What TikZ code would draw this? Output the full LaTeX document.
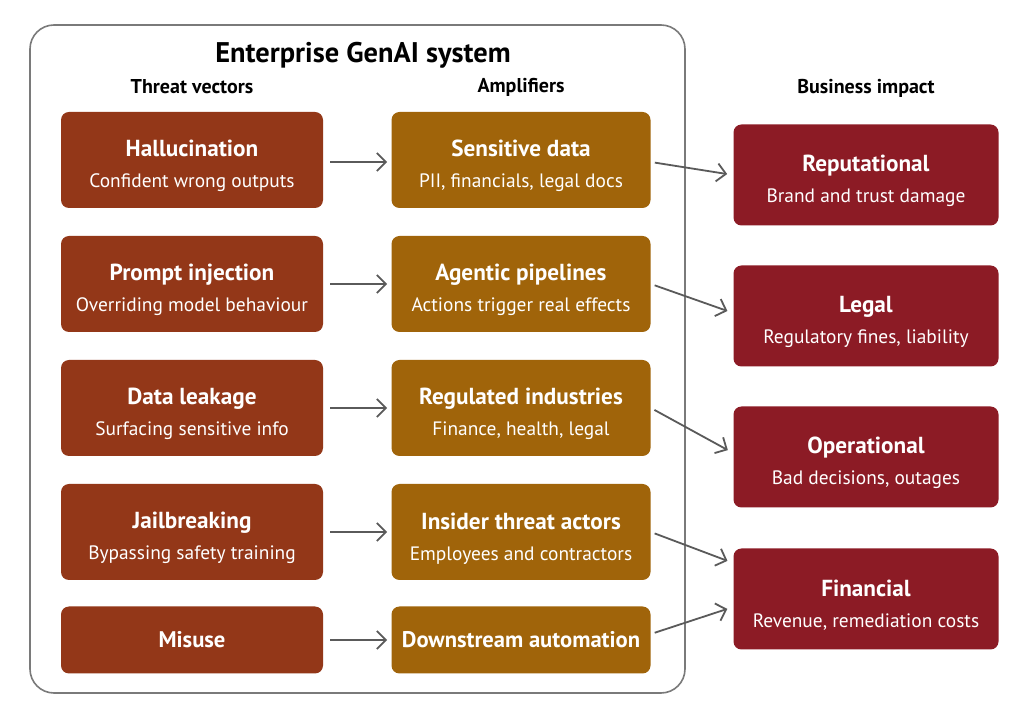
\documentclass[tikz,border=0pt]{standalone}
\usepackage{fontspec}
\setmainfont{PT Sans}
\usetikzlibrary{arrows.meta}
\definecolor{threatc}{HTML}{933718}
\definecolor{ampc}{HTML}{A0640A}
\definecolor{impactc}{HTML}{8C1B25}
\definecolor{framec}{HTML}{7A7A7A}
\definecolor{arrowc}{HTML}{5A5A5A}
\newcommand{\boxtext}[2]{\rule{0pt}{14.5pt}{\fontsize{11.6}{13}\selectfont\bfseries #1}\\[3.5pt]{\fontsize{9.7}{11}\selectfont #2}}

\begin{document}
\begin{tikzpicture}[x=0.5pt,y=-0.5pt,
  box/.style={rounded corners=4pt, text=white, align=center, inner sep=0pt},
  threat/.style={box, fill=threatc, minimum width=131pt, minimum height=48pt},
  amp/.style={box, fill=ampc, minimum width=129.5pt, minimum height=48pt},
  impact/.style={box, fill=impactc, minimum width=132.5pt, minimum height=50.5pt},
  colhead/.style={font=\fontsize{10}{12}\selectfont\bfseries},
  flow/.style={draw=arrowc, line width=0.9pt, -{Straight Barb[length=4.5pt,width=9pt]}}]
\useasboundingbox[fill=white] (0,0) rectangle (1024,721);
\draw[framec, line width=0.8pt, rounded corners=12pt] (30,25) rectangle (685,693);
\node (title) at (363,55) {\fontsize{14.2}{16}\selectfont\bfseries Enterprise GenAI system};
\node[colhead] (tvhead) at (192,87) {Threat vectors};
\node[colhead] (amhead) at (521,87) {Amplifiers};
\node[colhead] (bihead) at (866,88) {Business impact};
% threat vectors
\node[threat] (hal) at (192,160) {\boxtext{Hallucination}{Confident wrong outputs}};
\node[threat] (pin) at (192,284) {\boxtext{Prompt injection}{Overriding model behaviour}};
\node[threat] (dlk) at (192,408) {\boxtext{Data leakage}{Surfacing sensitive info}};
\node[threat] (jbr) at (192,532) {\boxtext{Jailbreaking}{Bypassing safety training}};
\node[threat, minimum height=33.5pt, font=\fontsize{11.3}{13}\selectfont\bfseries] (mis) at (192,640) {Misuse};
% amplifiers
\node[amp] (sen) at (521,160) {\boxtext{Sensitive data}{PII, financials, legal docs}};
\node[amp] (agp) at (521,284) {\boxtext{Agentic pipelines}{Actions trigger real effects}};
\node[amp] (reg) at (521,408) {\boxtext{Regulated industries}{Finance, health, legal}};
\node[amp] (ins) at (521,532) {\boxtext{Insider threat actors}{Employees and contractors}};
\node[amp, minimum height=33.5pt, font=\fontsize{11.3}{13}\selectfont\bfseries] (dsa) at (521,640) {Downstream automation};
% business impact
\node[impact] (rep) at (866,175) {\boxtext{Reputational}{Brand and trust damage}};
\node[impact] (leg) at (866,316) {\boxtext{Legal}{Regulatory fines, liability}};
\node[impact] (ops) at (866,457) {\boxtext{Operational}{Bad decisions, outages}};
\node[impact] (fin) at (866,599) {\boxtext{Financial}{Revenue, remediation costs}};
% arrows
\draw[flow, shorten <=3.5pt, shorten >=2pt] ([yshift=-1pt]hal.east) -- ([yshift=-1pt]sen.west);
\draw[flow, shorten <=3.5pt, shorten >=2pt] (pin) -- (agp);
\draw[flow, shorten <=3.5pt, shorten >=2pt] (dlk) -- (reg);
\draw[flow, shorten <=3.5pt, shorten >=2pt] (jbr) -- (ins);
\draw[flow, shorten <=3.5pt, shorten >=2pt] (mis) -- (dsa);
\draw[flow, shorten <=2pt, shorten >=3pt] ([yshift=-1pt]sen.east) -- ([yshift=0pt]rep.west);
\draw[flow, shorten <=2pt, shorten >=3pt] (agp.east) -- ([yshift=1.5pt]leg.west);
\draw[flow, shorten <=2pt, shorten >=3pt] (reg.east) -- ([yshift=2pt]ops.west);
\draw[flow, shorten <=2pt, shorten >=3pt] (ins.east) -- ([yshift=18pt]fin.west);
\draw[flow, shorten <=2pt, shorten >=3pt] ([yshift=3pt]dsa.east) -- ([yshift=-4pt]fin.west);
\end{tikzpicture}
\end{document}
